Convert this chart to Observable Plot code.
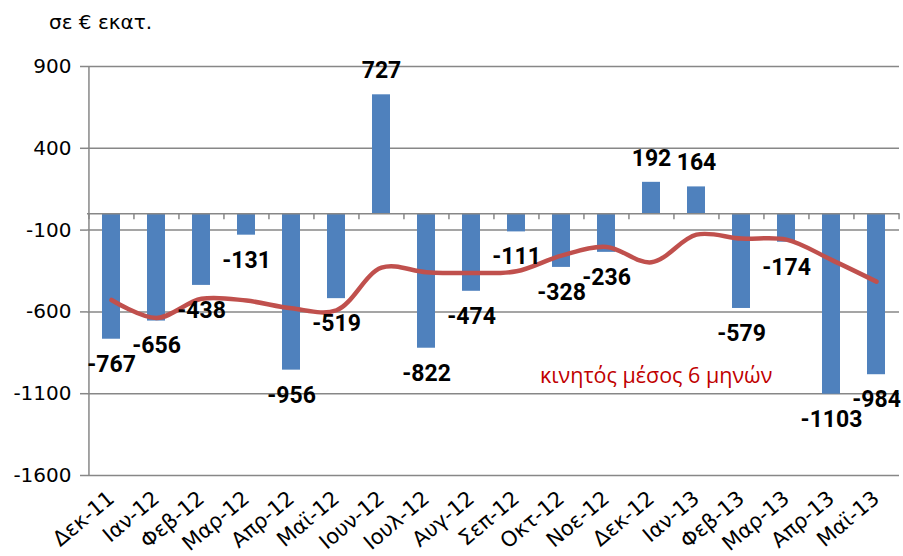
<!DOCTYPE html>
<html>
<head>
<meta charset="utf-8">
<script src="https://cdn.jsdelivr.net/npm/d3@7"></script>
<script src="https://cdn.jsdelivr.net/npm/@observablehq/plot@0.6"></script>
<style>
  body { margin: 0; background: #fff; }
  #wrap { position: relative; width: 903px; height: 556px; overflow: hidden; }
  #title { position: absolute; left: 49px; top: 12px; font: 20px "DejaVu Sans", sans-serif; line-height: 1; color: #000; white-space: nowrap; }
  #legend { position: absolute; left: 540px; top: 364px; font: 21.5px "Open Sans", sans-serif; line-height: 1; color: #C00000; white-space: nowrap; }
  #chart { position: absolute; left: 0; top: 0; }
  #chart svg g[aria-label="y-axis tick label"] { font-size: 20px !important; font-family: "DejaVu Sans", sans-serif !important; }
  #chart svg g[aria-label="x-axis tick label"] { font-size: 21px !important; font-family: "DejaVu Sans", sans-serif !important; }
</style>
</head>
<body>
<div id="wrap">
  <div id="chart"></div>
  <div id="title">σε € εκατ.</div>
  <div id="legend">κινητός μέσος 6 μηνών</div>
</div>
<script>
// Categories (months)
const months = ["Δεκ-11","Ιαν-12","Φεβ-12","Μαρ-12","Απρ-12","Μαϊ-12","Ιουν-12","Ιουλ-12","Αυγ-12","Σεπ-12","Οκτ-12","Νοε-12","Δεκ-12","Ιαν-13","Φεβ-13","Μαρ-13","Απρ-13","Μαϊ-13"];
// Monthly values (€ million)
const values = [-767,-656,-438,-131,-956,-519,727,-822,-474,-111,-328,-236,192,164,-579,-174,-1103,-984];
// 6-month moving average
const movingAvg = [-527,-637,-520,-531,-578,-590,-330,-357,-362,-352,-256,-203,-297,-128,-152,-158,-282,-415];
// Y axis ticks and domain
const yTicks = [900,400,-100,-600,-1100,-1600];
const yDomain = [-1600, 900];

const rows = months.map((m, i) => ({month: m, value: values[i], avg: movingAvg[i]}));

const W = 903, H = 556, mL = 87, mR = 4, mT = 66, mB = 81;
const step = (W - mL - mR) / months.length;
const gray = "#878787";

const chart = Plot.plot({
  width: W,
  height: H,
  marginLeft: mL,
  marginRight: mR,
  marginTop: mT,
  marginBottom: mB,
  style: {fontFamily: "'DejaVu Sans', sans-serif", fontSize: "20px", color: "#000", background: "transparent"},
  x: {domain: months, paddingInner: 0.61, paddingOuter: 0.305, label: null},
  y: {domain: yDomain, label: null},
  marks: [
    Plot.gridY(yTicks, {stroke: gray, strokeOpacity: 1, strokeWidth: 1.5}),
    Plot.barY(rows, {x: "month", y: "value", fill: "#4F81BD"}),
    Plot.ruleY([0], {stroke: gray, strokeWidth: 1.5}),
    // category boundary ticks below the zero line
    Plot.ruleX(months, {x: d => d, y1: 0, y2: 0, dx: -step / 2, insetBottom: -6, stroke: gray, strokeWidth: 1.5}),
    Plot.ruleX([months[months.length - 1]], {x: d => d, y1: 0, y2: 0, dx: step / 2, insetBottom: -6, stroke: gray, strokeWidth: 1.5}),
    // left vertical axis line
    Plot.ruleX([months[0]], {x: d => d, y1: yDomain[0], y2: yDomain[1], dx: -step / 2, stroke: gray, strokeWidth: 1.5}),
    Plot.axisY(yTicks, {tickSize: 7, tickPadding: 9, stroke: gray, strokeWidth: 1.5, fontSize: 20, tickFormat: d => String(d)}),
    Plot.axisX({tickSize: 0, tickPadding: 20, tickRotate: -40, fontSize: 21}),
    Plot.line(rows, {x: "month", y: "avg", stroke: "#C0504D", strokeWidth: 4.5, curve: "catmull-rom"}),
    Plot.text(rows.filter(d => d.value < 0), {x: "month", y: "value", text: d => String(d.value), dy: 25, fontFamily: "Roboto", fontWeight: "bold", fontSize: 23, fill: "#000"}),
    Plot.text(rows.filter(d => d.value >= 0), {x: "month", y: "value", text: d => String(d.value), dy: -24, fontFamily: "Roboto", fontWeight: "bold", fontSize: 23, fill: "#000"})
  ]
});
document.getElementById("chart").appendChild(chart);
</script>
</body>
</html>
